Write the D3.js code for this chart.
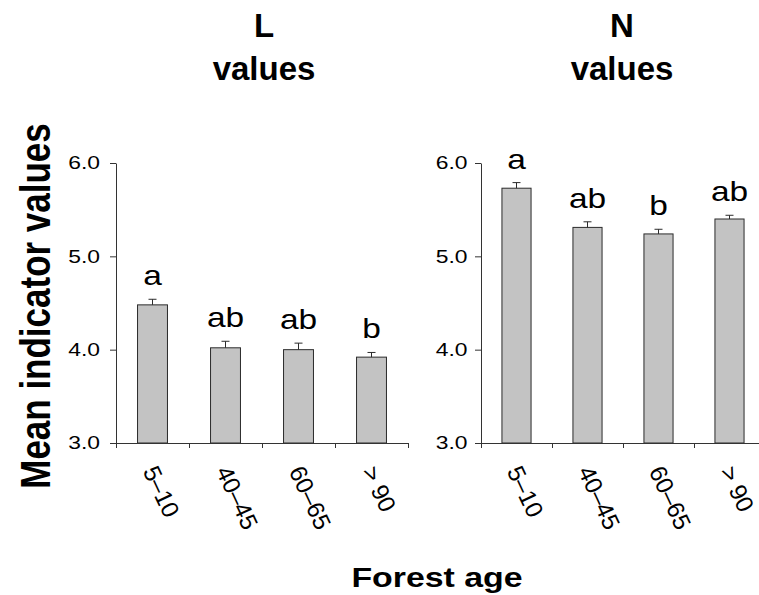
<!DOCTYPE html>
<html>
<head>
<meta charset="utf-8">
<script src="https://cdn.jsdelivr.net/npm/d3@7"></script>
<style>
  body { margin: 0; background: #fff; }
  text { font-family: "Liberation Sans", Arial, Helvetica, sans-serif; fill: #000; }
</style>
</head>
<body>
<svg id="chart" width="759" height="595"></svg>
<script>
// Forest age classes shared by both panels
const ageClasses = ["5–10", "40–45", "60–65", "> 90"];

// Ellenberg light (L) indicator values: means, standard errors, significance groups
const lMeans   = [4.48, 4.02, 4.00, 3.92];
const lErrors  = [0.06, 0.07, 0.07, 0.05];
const lLetters = ["a", "ab", "ab", "b"];

// Ellenberg nitrogen (N) indicator values
const nMeans   = [5.73, 5.31, 5.24, 5.40];
const nErrors  = [0.06, 0.06, 0.05, 0.04];
const nLetters = ["a", "ab", "b", "ab"];

const yTicks = [3.0, 4.0, 5.0, 6.0];

const svg = d3.select("#chart");
const axisColor = "#333";
const plotTop = 163, plotBottom = 443;

const y = d3.scaleLinear().domain([3, 6]).range([plotBottom, plotTop]);

const panels = [
  { title: "L", means: lMeans, errors: lErrors, letters: lLetters,
    left: 116, width: 292, titleX: 264, labelOff: 16 },
  { title: "N", means: nMeans, errors: nErrors, letters: nLetters,
    left: 481, width: 284, titleX: 622, labelOff: 13.5 }
];

panels.forEach(p => {
  const g = svg.append("g");
  const x = d3.scaleBand().domain(ageClasses).range([p.left, p.left + p.width]);
  const bw = x.bandwidth() * 0.41;
  const cx = c => x(c) + x.bandwidth() / 2;

  // panel title
  g.append("text").attr("x", p.titleX).attr("y", 37)
    .attr("text-anchor", "middle").style("font-size", "33px").style("font-weight", "bold")
    .text(p.title);
  g.append("text").attr("x", p.titleX).attr("y", 80)
    .attr("text-anchor", "middle").style("font-size", "33px").style("font-weight", "bold")
    .text("values");

  // bars
  g.selectAll("rect.bar").data(ageClasses).join("rect")
    .attr("class", "bar")
    .attr("x", c => cx(c) - bw / 2)
    .attr("width", bw)
    .attr("y", (c, i) => y(p.means[i]))
    .attr("height", (c, i) => y(3) - y(p.means[i]))
    .attr("fill", "#c3c3c3")
    .attr("stroke", "#2b2b2b")
    .attr("stroke-width", 1);

  // upper error whiskers
  g.selectAll("line.err").data(ageClasses).join("line")
    .attr("class", "err")
    .attr("x1", cx).attr("x2", cx)
    .attr("y1", (c, i) => y(p.means[i]))
    .attr("y2", (c, i) => y(p.means[i] + p.errors[i]))
    .attr("stroke", "#2b2b2b").attr("stroke-width", 1);
  g.selectAll("line.cap").data(ageClasses).join("line")
    .attr("class", "cap")
    .attr("x1", c => cx(c) - 4).attr("x2", c => cx(c) + 4)
    .attr("y1", (c, i) => y(p.means[i] + p.errors[i]))
    .attr("y2", (c, i) => y(p.means[i] + p.errors[i]))
    .attr("stroke", "#2b2b2b").attr("stroke-width", 1);

  // significance letters
  g.selectAll("text.sig").data(ageClasses).join("text")
    .attr("class", "sig")
    .attr("text-anchor", "middle")
    .attr("transform", (c, i) =>
      `translate(${cx(c)},${y(p.means[i] + p.errors[i]) - 14}) scale(1.24,1)`)
    .style("font-size", "27px")
    .text((c, i) => p.letters[i]);

  // y axis
  const yAxis = g.append("g")
    .attr("transform", `translate(${p.left},0)`)
    .call(d3.axisLeft(y).tickValues(yTicks).tickSize(6).tickSizeOuter(0)
      .tickFormat(d3.format(".1f")));
  yAxis.select(".domain").attr("stroke", axisColor);
  yAxis.selectAll(".tick line").attr("stroke", axisColor);
  yAxis.selectAll(".tick text")
    .attr("x", 0)
    .attr("transform", `translate(${-p.labelOff},0) scale(1.23,1)`)
    .style("font-size", "18.6px")
    .style("font-family", "'Liberation Sans', Arial, sans-serif")
    .attr("fill", "#000");

  // x axis with ticks on the category boundaries
  const xb = d3.scaleLinear().domain([0, ageClasses.length]).range([p.left, p.left + p.width]);
  const xAxis = g.append("g")
    .attr("transform", `translate(0,${plotBottom})`)
    .call(d3.axisBottom(xb).tickValues(d3.range(ageClasses.length + 1))
      .tickSize(5).tickSizeOuter(0).tickFormat(""));
  xAxis.select(".domain").attr("stroke", axisColor);
  xAxis.selectAll(".tick line").attr("stroke", axisColor);

  // rotated age class labels
  g.selectAll("text.cat").data(ageClasses).join("text")
    .attr("class", "cat")
    .attr("text-anchor", "start")
    .attr("transform", c => `translate(${cx(c) - 10},471) rotate(65)`)
    .style("font-size", "24px")
    .text(c => c);
});

// shared axis titles
svg.append("text")
  .attr("text-anchor", "middle")
  .attr("transform", "translate(50,306) scale(1.2,1) rotate(-90)")
  .style("font-size", "35px").style("font-weight", "bold")
  .text("Mean indicator values");

svg.append("text")
  .attr("text-anchor", "middle")
  .attr("transform", "translate(437,587) scale(1.21,1)")
  .style("font-size", "28px").style("font-weight", "bold")
  .text("Forest age");
</script>
</body>
</html>
